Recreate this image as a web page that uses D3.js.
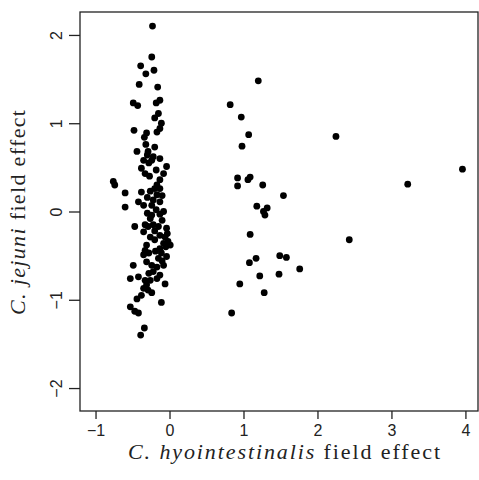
<!DOCTYPE html>
<html><head><meta charset="utf-8">
<script src="https://cdn.jsdelivr.net/npm/d3@7"></script>
<style>body{margin:0;background:#fff}</style>
</head><body>
<svg id="c" width="479" height="480"></svg>
<script>
const hyoX = [-0.23,-0.24,-0.39,-0.21,-0.32,-0.41,-0.16,-0.49,-0.43,-0.18,-0.13,-0.15,-0.20,-0.11,-0.13,-0.48,-0.31,-0.34,-0.17,-0.32,-0.20,-0.44,-0.29,-0.30,-0.22,-0.24,-0.13,-0.35,-0.04,-0.38,-0.33,-0.08,-0.13,-0.17,-0.76,-0.74,-0.60,-0.38,-0.26,-0.20,-0.13,-0.17,-0.22,-0.13,-0.24,-0.42,-0.35,-0.60,-0.24,-0.13,-0.26,-0.47,-0.33,-0.29,-0.22,-0.15,-0.04,-0.35,-0.13,-0.06,-0.26,-0.20,-0.02,0.01,-0.31,-0.08,-0.13,-0.33,-0.35,-0.11,-0.04,-0.15,-0.49,-0.31,-0.24,-0.17,-0.08,-0.53,-0.42,-0.33,-0.26,-0.17,-0.13,-0.31,-0.35,-0.06,-0.29,-0.24,-0.38,-0.44,-0.11,-0.53,-0.47,-0.42,-0.34,-0.39,
  -0.28,-0.18,-0.27,-0.10,-0.30,-0.18,-0.08,-0.30,-0.10,-0.20,-0.28,-0.19,-0.22,-0.10,-0.28,-0.05,-0.03,
  1.20,0.82,0.97,1.07,0.98,2.25,0.92,0.92,1.06,1.09,1.26,1.54,1.18,1.32,1.27,1.29,1.09,2.43,1.49,1.58,1.08,1.17,1.22,1.48,1.76,0.95,1.28,0.84,3.96,3.22];
const jejY = [2.10,1.75,1.65,1.60,1.56,1.44,1.41,1.23,1.20,1.23,1.26,1.11,1.06,1.00,0.94,0.92,0.89,0.84,0.90,0.76,0.73,0.68,0.68,0.64,0.62,0.58,0.60,0.58,0.51,0.49,0.43,0.43,0.36,0.30,0.34,0.30,0.21,0.22,0.23,0.26,0.26,0.19,0.13,0.11,0.07,0.11,0.07,0.05,-0.04,-0.03,-0.08,-0.17,-0.15,-0.17,-0.15,-0.17,-0.19,-0.23,-0.27,-0.29,-0.29,-0.32,-0.34,-0.38,-0.38,-0.36,-0.42,-0.44,-0.49,-0.47,-0.51,-0.53,-0.61,-0.57,-0.61,-0.63,-0.61,-0.76,-0.74,-0.78,-0.78,-0.76,-0.72,-0.83,-0.87,-0.82,-0.89,-0.92,-0.95,-0.99,-1.03,-1.08,-1.13,-1.15,-1.32,-1.40,
  0.55,0.47,0.40,0.18,0.16,0.02,0.00,-0.02,-0.10,-0.22,-0.47,-0.45,-0.68,-0.56,-0.70,-0.40,-0.25,
  1.48,1.21,1.07,0.87,0.74,0.85,0.38,0.29,0.36,0.39,0.30,0.18,0.06,0.04,0.00,-0.04,-0.26,-0.32,-0.50,-0.52,-0.58,-0.53,-0.73,-0.71,-0.65,-0.82,-0.92,-1.15,0.48,0.31];
const xTicks = [-1,0,1,2,3,4];
const yTicks = [-2,-1,0,1,2];
const xTitleGenus = "C.", xTitleSpecies = "hyointestinalis", xTitleRest = " field effect";
const yTitleGenus = "C.", yTitleSpecies = "jejuni", yTitleRest = " field effect";

const svg = d3.select("#c");
const L=80,R=478,T=12,B=411;
const x = d3.scaleLinear().domain([-1.21,4.17]).range([L,R]);
const y = d3.scaleLinear().domain([-2.26,2.26]).range([B,T]);
const fmt = d => d<0 ? "\u2212"+Math.abs(d) : String(d);

svg.append("rect").attr("x",L).attr("y",T).attr("width",R-L).attr("height",B-T)
  .attr("fill","none").attr("stroke","#222").attr("stroke-width",1.3);

const xa = svg.append("g").attr("transform",`translate(0,${B})`)
  .call(d3.axisBottom(x).tickValues(xTicks).tickSize(8).tickPadding(6).tickFormat(fmt));
xa.select(".domain").remove();
xa.selectAll("line").attr("stroke","#222").attr("stroke-width",1.3);
xa.selectAll("text").attr("font-family","Liberation Sans, Arial, sans-serif").attr("font-size",16).attr("fill","#222");

const ya = svg.append("g").attr("transform",`translate(${L},0)`)
  .call(d3.axisLeft(y).tickValues(yTicks).tickSize(11).tickFormat(fmt));
ya.select(".domain").remove();
ya.selectAll("line").attr("stroke","#222").attr("stroke-width",1.3);
ya.selectAll("text").attr("font-family","Liberation Sans, Arial, sans-serif").attr("font-size",16).attr("fill","#222")
  .attr("x",null).attr("dy",null).attr("text-anchor","middle")
  .attr("transform","translate(-18,0) rotate(-90)");

svg.append("g").selectAll("circle").data(hyoX.map((v,i)=>[v,jejY[i]])).join("circle")
  .attr("cx",d=>x(d[0])).attr("cy",d=>y(d[1])).attr("r",3.4).attr("fill","#000");

const xt = svg.append("text").attr("x",128).attr("y",459)
  .attr("textLength",312).attr("lengthAdjust","spacing")
  .attr("font-family","Liberation Serif, DejaVu Serif, serif").attr("font-size",22).attr("fill","#222");
xt.append("tspan").attr("font-style","italic").text(xTitleGenus+" "+xTitleSpecies);
xt.append("tspan").text(xTitleRest);

const yt = svg.append("text").attr("transform",`translate(25,315) rotate(-90)`)
  .attr("textLength",205).attr("lengthAdjust","spacing")
  .attr("font-family","Liberation Serif, DejaVu Serif, serif").attr("font-size",22).attr("fill","#222");
yt.append("tspan").attr("font-style","italic").text(yTitleGenus+" "+yTitleSpecies);
yt.append("tspan").text(yTitleRest);
</script>
</body></html>
